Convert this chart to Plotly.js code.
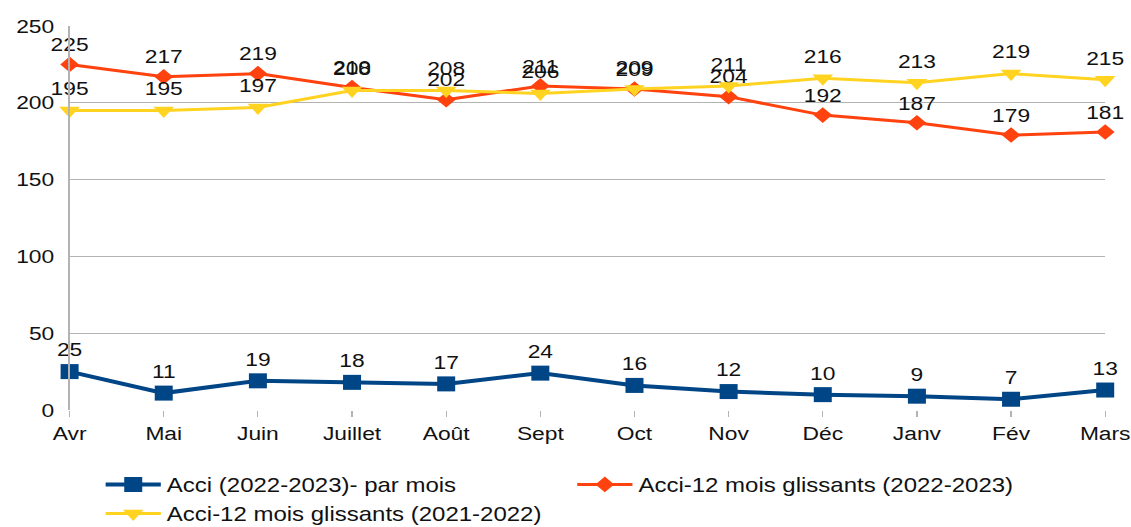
<!DOCTYPE html>
<html><head><meta charset="utf-8">
<script src="https://cdn.plot.ly/plotly-3.0.1.min.js"></script>
<style>
html,body{margin:0;padding:0;background:#fff;overflow:hidden}
#wrap{width:1131px;height:527px;overflow:hidden}
#chart{width:943px;height:527px;transform:scaleX(1.2);transform-origin:0 0}
</style>
</head><body><div id="wrap"><div id="chart"></div></div>
<script>
const months = ["Avr","Mai","Juin","Juillet","Août","Sept","Oct","Nov","Déc","Janv","Fév","Mars"];
const acciMois = [25,11,19,18,17,24,16,12,10,9,7,13];
const glissants2223 = [225,217,219,210,202,211,209,204,192,187,179,181];
const glissants2122 = [195,195,197,208,208,206,209,211,216,213,219,215];
const names = ["Acci (2022-2023)- par mois","Acci-12 mois glissants (2022-2023)","Acci-12 mois glissants (2021-2022)"];

const labelFont = {family:"Liberation Sans, Arial, sans-serif", size:19, color:"#111"};
function tr(y, name, color, symbol, msize, lw){
  return {x: months, y: y, name: name, type:"scatter", mode:"lines+markers+text",
    text: y.map(String), textposition:"top center", textfont: labelFont,
    line:{color:color, width:lw}, marker:{color:color, symbol:symbol, size:msize},
    cliponaxis:false};
}
const data = [
  tr(acciMois, names[0], "#004586", "square", 15, 4),
  tr(glissants2223, names[1], "#ff420e", "diamond", 12, 3),
  tr(glissants2122, names[2], "#ffd320", "triangle-down", 15, 3)
];
const layout = {
  width:943, height:527,
  margin:{l:58, r:22, t:26, b:117, autoexpand:false},
  paper_bgcolor:"#fff", plot_bgcolor:"#fff",
  showlegend:true,
  xaxis:{type:"category", range:[0,11], showgrid:false, zeroline:false,
    showline:false, ticks:"outside", ticklen:6, tickcolor:"#b3b3b3",
    tickfont:{family:"Liberation Sans, Arial, sans-serif", size:19, color:"#111"}},
  yaxis:{range:[0,250], tickvals:[0,50,100,150,200,250], showgrid:true, gridcolor:"#b3b3b3", gridwidth:1,
    zeroline:false, showline:true, linecolor:"#b3b3b3", ticks:"", ticklabelstandoff:8,
    tickfont:{family:"Liberation Sans, Arial, sans-serif", size:19, color:"#111"}},
  legend:{orientation:"h", x:0.029, xanchor:"left", y:-0.143, yanchor:"top",
    itemwidth:46, entrywidth:332, entrywidthmode:"pixels", tracegroupgap:0,
    font:{family:"Liberation Sans, Arial, sans-serif", size:20, color:"#111"}}
};
Plotly.newPlot("chart", data, layout, {displayModeBar:false, staticPlot:true});
</script></body></html>
